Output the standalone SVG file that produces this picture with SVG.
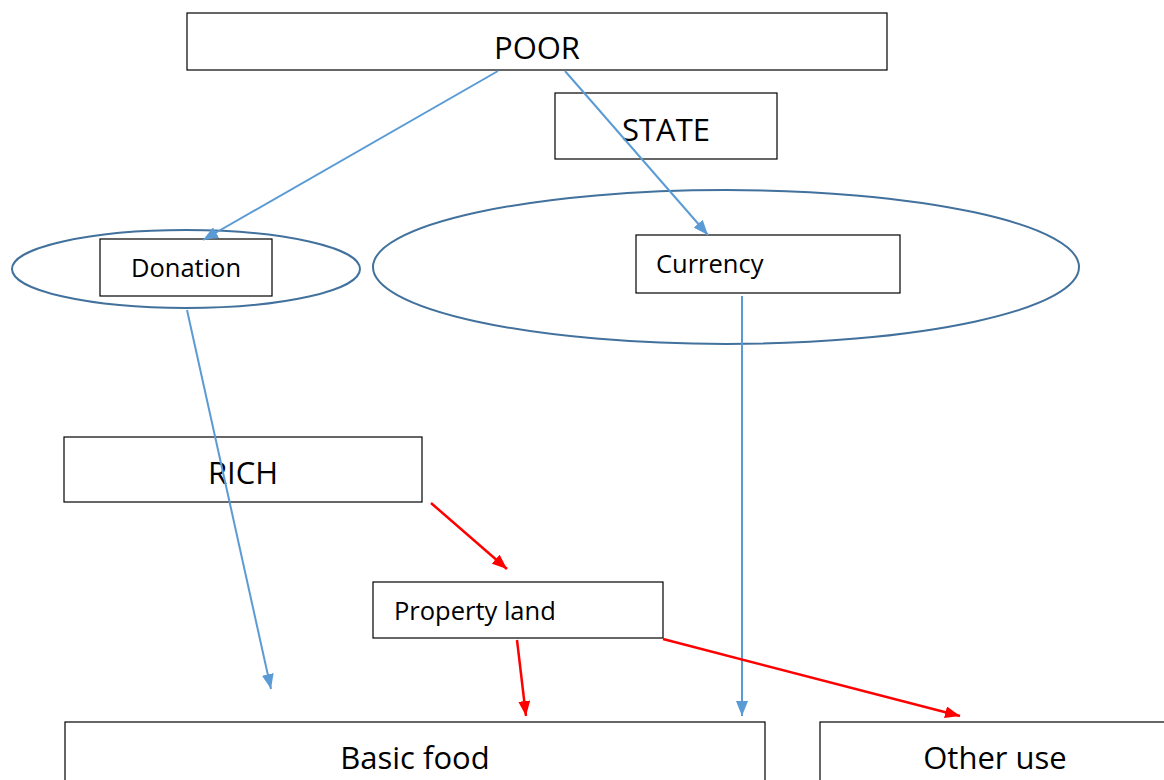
<svg xmlns="http://www.w3.org/2000/svg" width="1164" height="780" viewBox="0 0 1164 780">
<style>
.box{fill:#fff;stroke:#000;stroke-width:1.2}
.ell{fill:none;stroke:#41719C;stroke-width:2}
.t{font-family:"Open Sans","Liberation Sans",sans-serif;fill:#000}
.big{font-size:31px}
.sm{font-size:25.5px}
.blue{stroke:#5B9BD5;stroke-width:2;fill:none}
.red{stroke:#FF0000;stroke-width:2.5;fill:none}
</style>
<defs>
<marker id="ab" markerUnits="userSpaceOnUse" markerWidth="16" markerHeight="12" refX="15" refY="6" orient="auto"><path d="M0,0 L15,6 L0,12 Z" fill="#5B9BD5"/></marker>
<marker id="ar" markerUnits="userSpaceOnUse" markerWidth="16" markerHeight="12" refX="15" refY="6" orient="auto"><path d="M0,0 L15,6 L0,12 Z" fill="#FF0000"/></marker>
</defs>
<rect width="1164" height="780" fill="#fff"/>
<g id="ellipse-left"><ellipse class="ell" cx="186" cy="269" rx="174" ry="39"/></g>
<g id="ellipse-right"><ellipse class="ell" cx="726" cy="267" rx="353" ry="77"/></g>
<g id="poor"><rect class="box" x="187" y="13" width="700" height="57"/><text class="t big" x="537" y="59" text-anchor="middle">POOR</text></g>
<g id="state"><rect class="box" x="555" y="93" width="222" height="66"/><text class="t big" x="666" y="141" text-anchor="middle">STATE</text></g>
<g id="donation"><rect class="box" x="100" y="239" width="172" height="57"/><text class="t sm" x="186" y="277" text-anchor="middle">Donation</text></g>
<g id="currency"><rect class="box" x="636" y="235" width="264" height="58"/><text class="t sm" x="656" y="273">Currency</text></g>
<g id="rich"><rect class="box" x="64" y="437" width="358" height="65"/><text class="t big" x="243" y="484" text-anchor="middle">RICH</text></g>
<g id="property"><rect class="box" x="373" y="582" width="290" height="56"/><text class="t sm" x="394" y="620">Property land</text></g>
<g id="basic-food"><rect class="box" x="65" y="722" width="700" height="70"/><text class="t big" x="415" y="769" text-anchor="middle">Basic food</text></g>
<g id="other-use"><rect class="box" x="820" y="722" width="360" height="70"/><text class="t big" x="995" y="769" text-anchor="middle">Other use</text></g>
<g id="connectors">
<line class="blue" x1="498" y1="71" x2="203" y2="240" marker-end="url(#ab)"/>
<line class="blue" x1="565" y1="71" x2="708" y2="235" marker-end="url(#ab)"/>
<line class="blue" x1="187" y1="310" x2="271" y2="689" marker-end="url(#ab)"/>
<line class="blue" x1="742" y1="296" x2="742" y2="716" marker-end="url(#ab)"/>
<line class="red" x1="431" y1="503" x2="507" y2="569" marker-end="url(#ar)"/>
<line class="red" x1="517" y1="640" x2="526" y2="716" marker-end="url(#ar)"/>
<line class="red" x1="663" y1="639" x2="960" y2="716" marker-end="url(#ar)"/>
</g>
</svg>
